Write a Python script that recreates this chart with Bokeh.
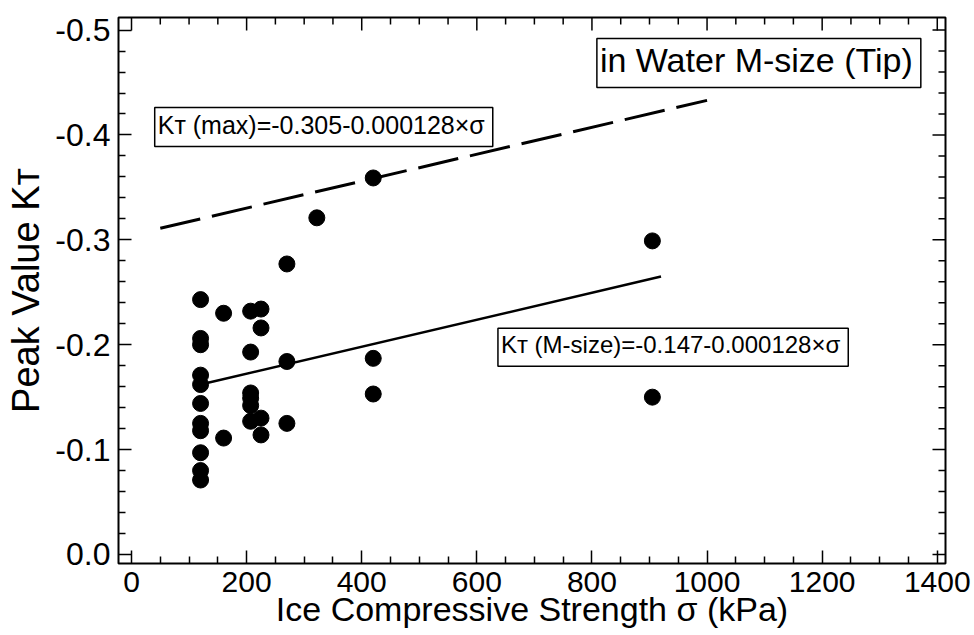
from bokeh.plotting import figure
from bokeh.models import Range1d, FixedTicker, LinearAxis, Label, PrintfTickFormatter
from bokeh.embed import file_html
from bokeh.resources import INLINE

# ---------------- data ----------------
strength = [120, 120, 120, 120, 120, 120, 120, 120, 120, 120, 120,
            160, 160,
            207, 207, 207, 207, 207, 207,
            225, 225, 225, 225,
            270, 270, 270,
            322,
            420, 420, 420,
            905, 905]
peak_kt = [-0.243, -0.206, -0.200, -0.171, -0.162, -0.144, -0.125, -0.118, -0.097, -0.080, -0.071,
           -0.230, -0.111,
           -0.232, -0.193, -0.154, -0.149, -0.142, -0.127,
           -0.234, -0.216, -0.130, -0.114,
           -0.277, -0.184, -0.125,
           -0.321,
           -0.359, -0.187, -0.153,
           -0.299, -0.150]

msize_fit_x = [120, 920]
msize_fit_y = [-0.162, -0.265]
max_fit_x = [50, 1000]
max_fit_y = [-0.311, -0.433]

x_ticks = [0, 200, 400, 600, 800, 1000, 1200, 1400]
x_minor = [50, 100, 150, 250, 300, 350, 450, 500, 550, 650, 700, 750, 850, 900, 950,
           1050, 1100, 1150, 1250, 1300, 1350]
y_ticks = [0.0, -0.1, -0.2, -0.3, -0.4, -0.5]
y_minor = [-0.02, -0.04, -0.06, -0.08, -0.12, -0.14, -0.16, -0.18, -0.22, -0.24, -0.26, -0.28,
           -0.32, -0.34, -0.36, -0.38, -0.42, -0.44, -0.46, -0.48]

x_title = "Ice Compressive Strength σ (kPa)"
y_title = "Peak Value Kᴛ"
box_title = "in Water M-size (Tip)"
max_label = "Kᴛ (max)=-0.305-0.000128×σ"
msize_label = "Kᴛ (M-size)=-0.147-0.000128×σ"

FONT = "Liberation Sans"

# ---------------- layout ----------------
W, H = 974, 635
BL, BR, BT, BB = 118, 29, 17, 72
X0, X1 = -22.6, 1414.3
Y_BOTTOM, Y_TOP = 0.0086, -0.512

p = figure(width=W, height=H,
           x_range=Range1d(X0, X1), y_range=Range1d(Y_BOTTOM, Y_TOP),
           output_backend="svg", toolbar_location=None,
           min_border_left=BL, min_border_right=BR, min_border_top=BT, min_border_bottom=BB,
           x_axis_location=None, y_axis_location=None)
p.xgrid.visible = False
p.ygrid.visible = False
p.outline_line_color = "black"
p.outline_line_width = 2
p.outline_line_alpha = 1
p.background_fill_color = "white"
p.border_fill_color = "white"

MAJ, MIN = 13, 7
TICK_W = 1.5


def make_axis(ticks, minor, label_size, fmt=None):
    ax = LinearAxis(ticker=FixedTicker(ticks=ticks, minor_ticks=minor))
    ax.axis_line_color = None
    ax.major_tick_in = MAJ
    ax.major_tick_out = 0
    ax.minor_tick_in = MIN
    ax.minor_tick_out = 0
    ax.major_tick_line_color = "black"
    ax.major_tick_line_width = TICK_W
    ax.minor_tick_line_color = "black"
    ax.minor_tick_line_width = TICK_W
    if fmt is not None:
        ax.formatter = fmt
    ax.major_label_text_font = FONT
    ax.major_label_text_font_size = label_size
    ax.major_label_text_color = "black"
    ax.axis_label_text_font = FONT
    ax.axis_label_text_font_style = "normal"
    ax.axis_label_text_color = "black"
    return ax


xb = make_axis(x_ticks, x_minor, "30px")
xb.major_label_standoff = 8
xb.axis_label = x_title
xb.axis_label_text_font_size = "34px"
xb.axis_label_standoff = -5
p.add_layout(xb, "below")

yl = make_axis(y_ticks, y_minor, "32px", PrintfTickFormatter(format="%.1f"))
yl.major_label_standoff = 8
yl.axis_label = y_title
yl.axis_label_text_font_size = "38px"
yl.axis_label_standoff = 5
p.add_layout(yl, "left")

# mirrored inward ticks on the top and right edges of the frame
fw = W - BL - BR
fh = H - BT - BB
px_x = fw / (X1 - X0)
px_y = fh / (Y_BOTTOM - Y_TOP)
for ticks, ln in ((x_ticks, MAJ), (x_minor, MIN)):
    p.segment(x0=ticks, y0=[Y_TOP] * len(ticks), x1=ticks, y1=[Y_TOP + ln / px_y] * len(ticks),
              line_color="black", line_width=TICK_W)
for ticks, ln in ((y_ticks, MAJ), (y_minor, MIN)):
    p.segment(x0=[X1] * len(ticks), y0=ticks, x1=[X1 - ln / px_x] * len(ticks), y1=ticks,
              line_color="black", line_width=TICK_W)

# fit lines
p.line(max_fit_x, max_fit_y, line_color="black", line_width=3, line_dash="41 12")
p.line(msize_fit_x, msize_fit_y, line_color="black", line_width=2.5)

# points
p.scatter(strength, peak_kt, size=16, marker="circle", fill_color="black", line_color="black")


def boxed(x, y, text, size):
    return Label(x=x, y=y, text=text, text_align="center", text_baseline="middle",
                 text_font=FONT, text_font_size=size, text_color="black",
                 background_fill_color="white", border_line_color="black",
                 border_line_width=1.5, padding=(3, 8, 3, 8))


p.add_layout(boxed(1090, -0.4687, box_title, "34px"))
p.add_layout(boxed(334, -0.4075, max_label, "25px"))
p.add_layout(boxed(941, -0.1975, msize_label, "24px"))

open("out.html", "w").write(file_html(p, INLINE))
